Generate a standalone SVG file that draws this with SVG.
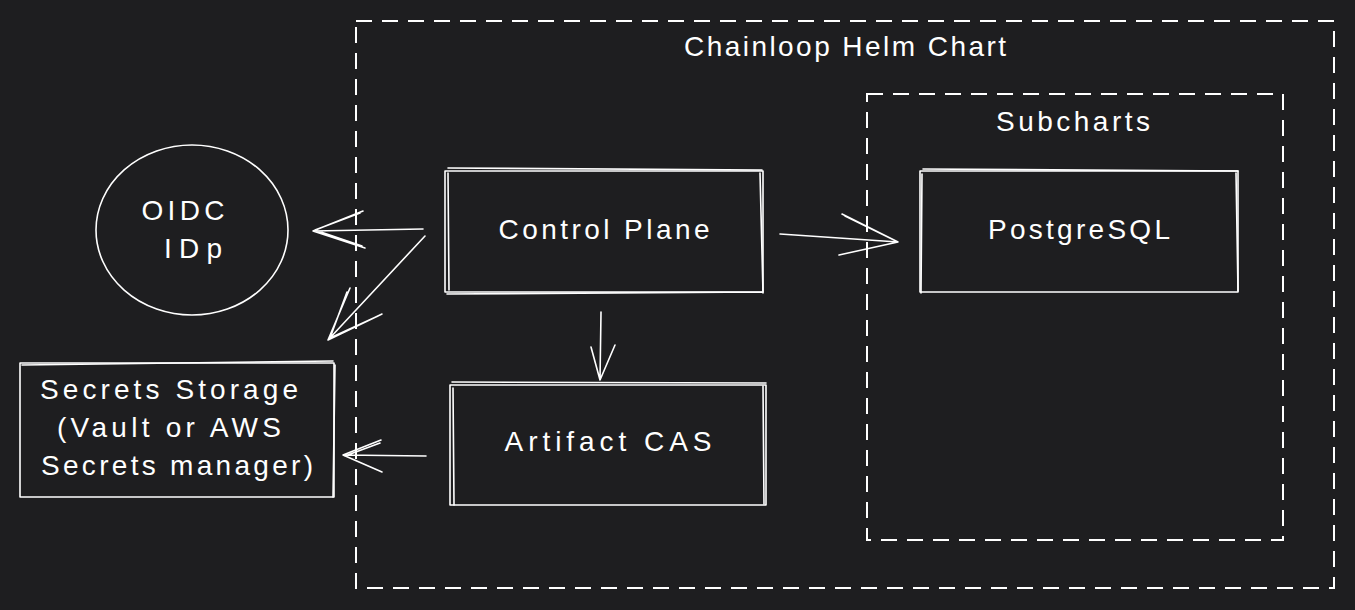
<svg xmlns="http://www.w3.org/2000/svg" width="1355" height="610" viewBox="0 0 1355 610">
<style>
.bg{fill:#1e1e20}
.sk{fill:none;stroke:#ffffff;stroke-width:1.6;stroke-linecap:round;stroke-linejoin:round}
.dash{fill:none;stroke:#ffffff;stroke-width:2;stroke-dasharray:16 10}
.t{fill:#ffffff;font-family:"Liberation Sans","Open Sans",sans-serif;font-size:28px;text-anchor:middle;dominant-baseline:central}
</style>
<rect class="bg" x="0" y="0" width="1355" height="610"/>
<g id="helm-chart">
<rect class="dash" x="356" y="21" width="978" height="567"/>
<text class="t" x="845" y="46" textLength="322" lengthAdjust="spacing">Chainloop Helm Chart</text>
</g>
<g id="subcharts">
<rect class="dash" x="867" y="94" width="416" height="446"/>
<text class="t" x="1073" y="121" textLength="154" lengthAdjust="spacing">Subcharts</text>
</g>
<g id="oidc">
<ellipse class="sk" cx="192" cy="230" rx="96" ry="85"/>
<text class="t" x="183" y="210" textLength="83" lengthAdjust="spacing">OIDC</text>
<text class="t" x="193" y="248" textLength="58" lengthAdjust="spacing">IDp</text>
</g>
<g id="secrets">
<rect class="sk" x="20" y="363" width="314" height="134"/>
<path class="sk" d="M22 365 L333 361 M335 365 L333 497"/>
<text class="t" x="169" y="389" textLength="258" lengthAdjust="spacing">Secrets Storage</text>
<text class="t" x="169" y="427" textLength="224" lengthAdjust="spacing">(Vault or AWS</text>
<text class="t" x="177" y="465" textLength="272" lengthAdjust="spacing">Secrets manager)</text>
</g>
<g id="control-plane">
<rect class="sk" x="445" y="171" width="318" height="121"/>
<path class="sk" d="M448 168 L762 170 M448 173 L449 290 M760 173 L763 293 M447 294 L763 292"/>
<text class="t" x="604" y="229" textLength="211" lengthAdjust="spacing">Control Plane</text>
</g>
<g id="postgresql">
<rect class="sk" x="920" y="171" width="318" height="121"/>
<path class="sk" d="M923 169 L1238 171 M922 174 L921 293 M1236 173 L1238 291"/>
<text class="t" x="1079" y="229" textLength="182" lengthAdjust="spacing">PostgreSQL</text>
</g>
<g id="artifact-cas">
<rect class="sk" x="450" y="385" width="316" height="120"/>
<path class="sk" d="M452 382 L766 383 M453 388 L454 505 M763 386 L764 504"/>
<text class="t" x="608" y="441" textLength="207" lengthAdjust="spacing">Artifact CAS</text>
</g>
<g id="connectors">
<path class="sk" d="M423 229 L313 231 M363 211 L313 231 L365 248 M360 213 L315 230 L362 246"/>
<path class="sk" d="M425 236 L328 340 M350 288 L328 340 L382 314 M347 292 L330 338 L378 316"/>
<path class="sk" d="M780 234 L898 242 M842 214 L898 242 L839 255 M845 216 L896 241"/>
<path class="sk" d="M601 312 L600 380 M591 347 L600 380 L615 345"/>
<path class="sk" d="M426 456 L343 455 M381 440 L343 455 L382 472 M380 443 L345 456"/>
</g>
</svg>
